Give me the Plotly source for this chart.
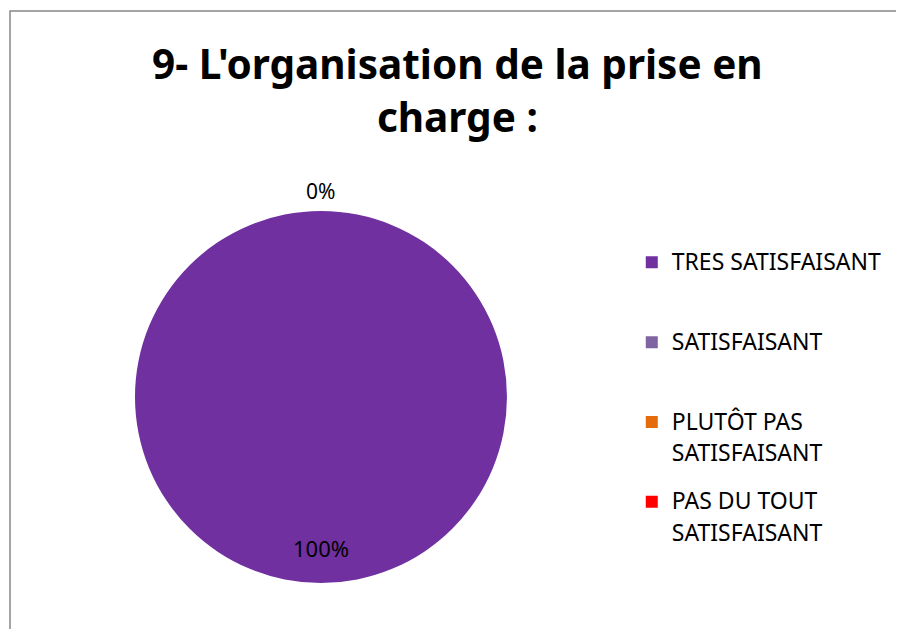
import plotly.graph_objects as go

categories = ["TRES SATISFAISANT", "SATISFAISANT", "PLUTÔT PAS SATISFAISANT", "PAS DU TOUT SATISFAISANT"]
legend_lines = [["TRES SATISFAISANT"], ["SATISFAISANT"], ["PLUTÔT PAS", "SATISFAISANT"], ["PAS DU TOUT", "SATISFAISANT"]]
values = [100, 0, 0, 0]
colors = ["#7030A0", "#8064A2", "#E46C0A", "#FF0000"]
title_text = "9- L'organisation de la prise en<br>charge :"

total = sum(values)
pcts = [f"{v / total:.0%}" for v in values]

FONT = "Noto Sans"
LEG_TEXT_PX = 23
LEG_LINES = 3


def legend_label(lines):
    shown = []
    for k, t in enumerate(lines):
        shift = "" if k == 0 else ";baseline-shift:-6px"
        shown.append(f'<span style="font-size:{LEG_TEXT_PX}px{shift}">{t}</span>')
    shown += [" "] * (LEG_LINES - len(lines))
    return "<br>".join(shown)


labels = [legend_label(l) for l in legend_lines]

fig = go.Figure(go.Pie(
    labels=labels,
    values=values,
    marker=dict(colors=colors, line=dict(width=0)),
    textinfo="none",
    sort=False,
    direction="clockwise",
    domain=dict(x=[0.1398, 0.5559], y=[0.0744, 0.6764]),
    customdata=categories,
    hovertemplate="%{customdata}: %{percent}<extra></extra>",
))

fig.update_layout(
    width=896, height=621,
    margin=dict(l=2, r=0, t=3, b=0),
    paper_bgcolor="white",
    plot_bgcolor="white",
    font=dict(family=FONT, color="black"),
    showlegend=True,
    legend=dict(x=0.6955, y=0.6246, xanchor="left", yanchor="top",
                font=dict(family=FONT, size=19.7, color="black"),
                valign="top", traceorder="normal",
                itemclick=False, itemdoubleclick=False),
    annotations=[
        dict(text=title_text, x=0.5, y=0.8715, xref="paper", yref="paper",
             xanchor="center", yanchor="middle", showarrow=False,
             font=dict(family=FONT, size=40.5, color="black", weight="bold")),
        dict(text=pcts[1], x=0.3468, y=0.7087, xref="paper", yref="paper",
             xanchor="center", yanchor="middle",
             showarrow=False, font=dict(family=FONT, size=21, color="black")),
        dict(text=pcts[0], x=0.3479, y=0.1311, xref="paper", yref="paper",
             xanchor="center", yanchor="middle",
             showarrow=False, font=dict(family=FONT, size=22, color="black")),
    ],
    shapes=[
        dict(type="rect", xref="paper", yref="paper", x0=0, x1=0.9989, y0=-0.05, y1=1,
             line=dict(color="#888888", width=1.5), fillcolor="rgba(0,0,0,0)"),
    ],
)

fig.write_html("out.html")
